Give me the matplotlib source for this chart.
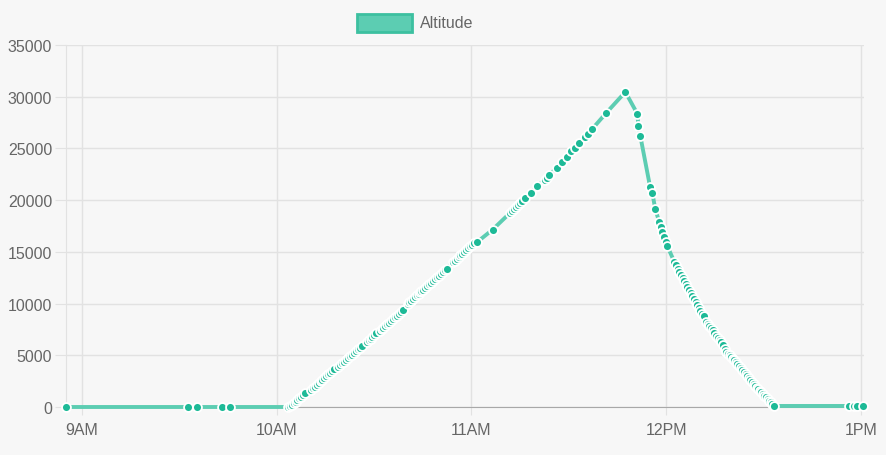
import numpy as np
import matplotlib.pyplot as plt
from matplotlib.patches import Rectangle

# minutes after 9:00 AM
minutes = [
    -4.9, 32.6, 35.4, 43.1, 45.5,
    63.4, 64.0, 64.6, 65.2, 65.8, 66.4, 67.0, 67.6, 68.2, 68.8,
    70.5, 71.1, 71.7, 72.3, 72.9, 73.5, 74.1, 74.7, 75.3, 75.9, 76.5, 77.1, 77.7,
    79.0, 79.6, 80.2, 80.8, 81.4, 82.0, 82.6, 83.2, 83.8, 84.4, 85.0, 85.6, 86.2,
    87.7, 88.3, 88.9, 89.5, 90.1, 90.7, 91.7, 92.5, 92.8, 93.4, 94.0, 94.6, 95.2,
    95.8, 96.4, 97.0, 97.6, 98.2, 98.8,
    100.3, 100.9, 101.5, 102.1, 102.7, 103.3, 103.8, 104.2, 104.6, 105.2, 105.8,
    106.4, 107.0, 107.6, 108.2, 108.8, 109.4, 110.0, 110.6, 111.2, 111.8, 112.4,
    114.2, 114.8, 115.4, 116.0, 116.6, 117.2, 117.8, 118.4, 119.0, 119.6, 120.2,
    120.8, 121.8,
    126.5, 132.0, 132.6, 133.2, 133.8, 134.4, 135.0, 135.7, 136.4,
    138.2, 140.3, 142.5, 143.2, 144.0, 146.2, 148.0, 149.5, 150.8, 152.0, 153.2,
    155.1, 155.8, 157.2, 161.5, 167.4,
    171.1, 171.4, 172.0, 175.0, 175.7, 176.6, 177.8, 178.3, 178.8, 179.3, 179.8,
    180.3, 182.5,
    183.0, 183.5, 184.0, 184.5, 185.0, 185.5, 186.0, 186.5, 187.0, 187.5, 188.0,
    188.5, 189.0, 189.5, 190.0, 190.5, 191.0, 191.5, 192.3,
    192.8, 193.3, 193.8, 194.3, 194.8, 195.4, 195.9, 196.4, 196.9, 197.4, 198.0,
    198.5, 199.0, 199.5, 200.0, 200.5, 200.9, 201.4, 201.9, 202.4, 202.9, 203.4,
    203.9, 204.4, 204.9, 205.4, 205.9, 206.4, 206.9, 207.4, 207.9, 208.4, 208.8,
    209.2, 209.7, 210.2, 210.7, 211.2, 211.7, 212.2, 212.7, 213.2,
    236.3, 237.8, 238.8, 240.6,
]

altitude = [
    0, 0, 0, 0, 0,
    0, 60, 200, 350, 510, 670, 830, 990, 1150, 1310,
    1600, 1800, 1970, 2140, 2310, 2480, 2650, 2820, 2990, 3160, 3330, 3500, 3660,
    3870, 4040, 4210, 4380, 4550, 4720, 4890, 5060, 5230, 5400, 5570, 5740, 5910,
    6290, 6450, 6620, 6790, 6960, 7130, 7350, 7570, 7650, 7820, 7990, 8160, 8330,
    8500, 8670, 8840, 9010, 9180, 9350,
    9950, 10110, 10280, 10450, 10620, 10790, 10950, 11080, 11180, 11350, 11520,
    11690, 11860, 12030, 12200, 12370, 12540, 12710, 12880, 13050, 13220, 13390,
    14000, 14160, 14330, 14500, 14670, 14840, 15010, 15180, 15350, 15520, 15690,
    15850, 15960,
    17150, 18800, 18960, 19150, 19340, 19560, 19750, 19950, 20200,
    20700, 21370, 21950, 22150, 22440, 23110, 23700, 24200, 24760, 25050, 25530,
    26110, 26350, 26890, 28430, 30460,
    28340, 27180, 26210, 21300, 20700, 19150, 17890, 17400, 16900, 16400, 16000,
    15570, 14020,
    13700, 13385, 13075, 12770, 12470, 12170, 11875, 11580, 11290, 11000, 10715,
    10430, 10150, 9870, 9590, 9315, 9040, 8770, 8250,
    8050, 7850, 7640, 7400, 7150, 6870, 6680, 6480, 6290, 6000, 5650,
    5320, 5150, 4990, 4830, 4680, 4550, 4350, 4160, 3960, 3770, 3580,
    3390, 3190, 3000, 2800, 2610, 2420, 2220, 2030, 1870, 1710, 1580,
    1450, 1280, 1110, 940, 770, 600, 440, 270, 100,
    100, 100, 100, 100,
]

hour_ticks = [0, 60, 120, 180, 240]
hour_labels = ['9AM', '10AM', '11AM', '12PM', '1PM']
alt_ticks = [0, 5000, 10000, 15000, 20000, 25000, 30000, 35000]

bg = '#f7f7f7'
grid_c = '#e2e2e2'
txt_c = '#666666'
line_c = '#5ccdb2'
point_c = '#1dba97'

plt.rcParams['font.family'] = ['Liberation Sans', 'DejaVu Sans']

fig = plt.figure(figsize=(8.86, 4.56), dpi=100, facecolor=bg)
ax = fig.add_axes([66/886, 1 - 408/456, (864 - 66)/886, (408 - 46)/456])
ax.set_facecolor(bg)

ax.plot(minutes, altitude, color=line_c, lw=2.8, marker='o', ms=6.4,
        mfc=point_c, mec='white', mew=1.3, clip_on=False, zorder=3)

ax.set_xlim(-4.9, 240.9)
ax.set_ylim(0, 35000)
ax.set_xticks(hour_ticks)
ax.set_xticklabels(hour_labels)
ax.set_yticks(alt_ticks)
ax.set_yticklabels([str(v) for v in alt_ticks])

ax.grid(True, color=grid_c, lw=1)
ax.set_axisbelow(True)
for s in ['top', 'right']:
    ax.spines[s].set_visible(False)
ax.spines['left'].set_color(grid_c)
ax.spines['bottom'].set_color('#a8a8a8')
ax.tick_params(axis='both', colors=grid_c, labelcolor=txt_c, labelsize=11.5)
ax.tick_params(axis='x', length=6, pad=5)
ax.tick_params(axis='y', length=8, pad=2)

# legend
fig.patches.append(Rectangle((357/886, 1 - 33/456), 55/886, 18/456,
                             transform=fig.transFigure, facecolor=line_c,
                             edgecolor='#3cc0a0', lw=2))
fig.text(420/886, 1 - 23/456, 'Altitude', color=txt_c, fontsize=11.5,
         va='center', ha='left')

fig.savefig('out.png', dpi=100, facecolor=bg)
